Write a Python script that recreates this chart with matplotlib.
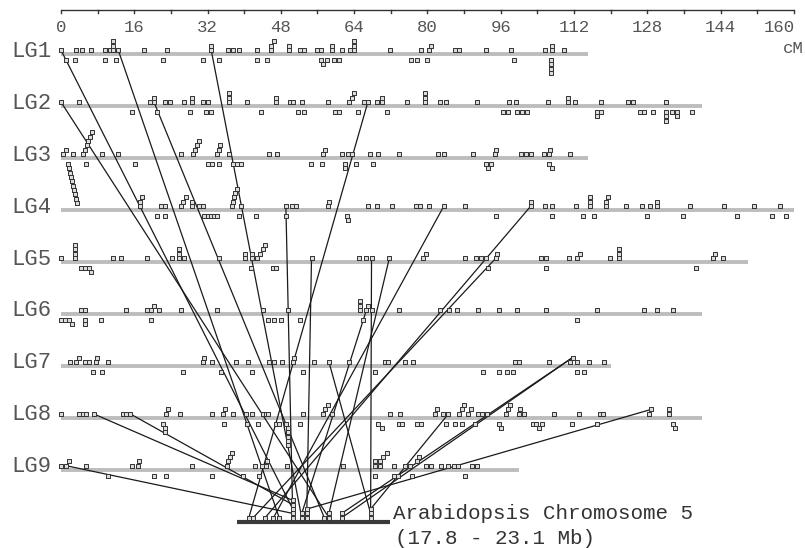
import numpy as np
import matplotlib.pyplot as plt

# linkage groups: names and lengths (cM)
lg_names = ['LG1', 'LG2', 'LG3', 'LG4', 'LG5', 'LG6', 'LG7', 'LG8', 'LG9']
lg_len = [115, 140, 115, 160, 150, 140, 120, 140, 100]

# marker positions (cM) per stack level: +1,+2.. above the bar, -1,-2.. below
lg1 = {1: [0, 3.3, 4.5, 6.5, 9.7, 10.6, 11.4, 12.5, 18.2, 23.1, 32.8, 36.4, 37.6, 38.8, 42.8, 45.9, 49.7,
           52.2, 53.1, 55.8, 56.7, 59.1, 61.4, 63.2, 64.0, 71.8, 78.5, 80.4, 86.0, 86.8, 92.8, 98.2,
           105.7, 107.3, 109.9],
       2: [11.4, 32.8, 45.9, 49.7, 59.1, 64.0, 80.7, 107.3],
       3: [11.4, 46.5, 64.0],
       -1: [1.2, 3.1, 9.5, 11.9, 22.3, 31.0, 34.4, 42.9, 44.9, 56.8, 58.0, 59.5, 60.7, 76.4, 77.7, 80.0,
            99.0, 106.9],
       -2: [57.2, 106.9], -3: [106.9], -4: [106.9]}
lg2 = {1: [0, 3.9, 19.5, 20.3, 22.6, 23.8, 26.8, 28.5, 31.0, 32.0, 36.7, 40.6, 46.9, 49.9, 50.7, 52.6,
           58.2, 62.9, 66.2, 67.0, 69.1, 70.0, 75.6, 79.5, 82.8, 84.1, 90.9, 97.9, 99.3, 106.3, 110.8,
           112.2, 117.9, 123.7, 124.8, 132.0],
       2: [20.3, 28.5, 36.7, 46.9, 63.5, 70.0, 79.5, 110.8],
       3: [36.7, 64.0, 79.5],
       -1: [15.4, 20.9, 28.2, 31.7, 32.8, 43.7, 51.7, 53.1, 59.8, 60.8, 64.9, 71.1, 96.4, 97.6, 99.6,
            100.6, 101.7, 117.0, 117.9, 126.4, 127.4, 129.3, 132.0, 133.5, 134.6, 137.7],
       -2: [117.0, 132.0, 134.6], -3: [132.0]}
lg3 = {1: [0.5, 2.7, 4.7, 9.0, 12.5, 26.2, 28.9, 34.0, 36.6, 45.5, 47.1, 57.3, 61.3, 62.7, 63.6, 67.5,
           69.3, 73.8, 82.4, 83.6, 90.0, 94.7, 100.4, 101.5, 102.6, 105.5, 106.5, 111.1],
       2: [1.0, 5.2, 29.3, 34.4, 57.6, 95.0, 106.7],
       3: [5.6, 29.7, 34.8], 4: [6.0, 30.2], 5: [6.4], 6: [6.8],
       -1: [1.6, 5.5, 16.2, 32.2, 32.9, 34.4, 37.6, 38.4, 39.2, 54.5, 56.9, 61.9, 64.4, 68.2, 92.7, 93.8,
            106.5],
       -2: [1.8, 61.9, 93.3, 107.1],
       -3: [2.0], -4: [2.2], -5: [2.4], -6: [2.6], -7: [2.8], -8: [3.0], -9: [3.2], -10: [3.4]}
lg4 = {1: [17.2, 21.8, 22.7, 26.1, 28.5, 30.2, 31.1, 37.4, 39.2, 49.1, 50.4, 51.3, 58.2, 67.1, 69.1,
           72.2, 77.5, 78.4, 80.4, 83.6, 88.2, 102.6, 105.6, 107.3, 112.4, 115.4, 119.1, 123.3, 126.8,
           128.6, 130.2, 137.3, 144.8, 151.3, 157.0],
       2: [17.2, 26.7, 28.7, 37.6, 58.6, 102.6, 115.4, 119.1, 130.2],
       3: [17.6, 27.2, 37.8, 115.4, 119.4], 4: [38.1], 5: [38.4],
       -1: [20.9, 22.7, 31.2, 32.0, 32.7, 33.4, 34.1, 38.9, 42.5, 49.1, 62.4, 94.9, 107.3, 114.0, 116.4,
            127.9, 135.9, 147.5, 155.2, 158.2],
       -2: [62.7]}
lg5 = {1: [0, 3.1, 11.3, 13.0, 18.7, 24.3, 25.8, 26.9, 34.4, 40.2, 41.6, 42.7, 54.7, 65.1, 66.7, 67.8,
           71.7, 79.0, 88.2, 90.6, 91.7, 92.8, 95.0, 104.7, 105.8, 110.9, 112.6, 119.8, 121.9, 142.3,
           144.5],
       2: [3.1, 25.8, 40.2, 41.6, 43.4, 79.7, 95.3, 113.3, 121.9, 142.8],
       3: [3.1, 25.8, 44.0, 121.9], 4: [3.1, 44.5],
       -1: [4.3, 5.2, 6.2, 41.4, 46.2, 46.9, 93.3, 105.8, 138.6],
       -2: [6.6]}
lg6 = {1: [4.4, 5.2, 14.2, 18.7, 19.6, 21.3, 26.1, 34.0, 44.2, 49.6, 65.3, 66.7, 67.8, 73.7, 82.8, 84.8,
           86.5, 91.1, 95.6, 99.6, 105.8, 117.0, 127.3, 130.1, 133.7],
       2: [20.2, 65.3, 67.0], 3: [65.3],
       -1: [0, 0.9, 1.7, 5.2, 8.7, 19.6, 45.3, 46.4, 48.0, 52.2, 66.0, 112.7],
       -2: [2.5, 5.2]}
lg7 = {1: [2.0, 3.3, 5.2, 6.2, 7.6, 10.2, 30.9, 33.0, 38.2, 40.9, 45.5, 46.4, 48.2, 50.6, 55.3, 58.5,
           62.9, 70.7, 71.5, 75.1, 76.9, 99.1, 100.1, 106.6, 111.1, 112.7, 115.3, 118.5],
       2: [3.9, 7.8, 31.3, 50.9, 111.7],
       -1: [6.9, 8.9, 26.6, 34.9, 41.8, 52.9, 68.6, 92.1, 95.7, 97.3, 98.6, 112.7, 114.1]}
lg8 = {1: [0, 4.0, 4.7, 5.5, 7.1, 13.6, 14.3, 15.1, 22.9, 26.0, 33.0, 35.3, 37.6, 40.3, 41.8, 44.0,
           44.7, 45.3, 52.8, 57.3, 59.2, 71.8, 74.0, 81.7, 83.5, 84.6, 87.0, 88.9, 91.0, 91.9, 93.0,
           97.1, 99.9, 101.1, 107.7, 113.2, 117.7, 118.4, 128.4, 132.8],
       2: [23.4, 35.9, 57.6, 82.0, 87.5, 89.5, 97.7, 100.2, 128.8, 132.8],
       3: [58.2, 87.9, 98.0],
       -1: [22.3, 35.6, 40.7, 43.1, 46.9, 47.7, 49.1, 52.2, 69.3, 73.7, 74.4, 77.7, 78.7, 84.1, 86.0,
            87.5, 90.4, 95.7, 103.1, 103.8, 105.1, 111.5, 117.0, 133.7],
       -2: [22.7, 49.6, 70.0, 96.1, 104.4, 134.1],
       -3: [22.7, 49.6], -4: [49.6], -5: [49.6], -6: [49.6]}
lg9 = {1: [0, 1.2, 5.5, 15.4, 16.9, 28.7, 36.2, 42.4, 43.8, 44.7, 49.4, 61.6, 68.6, 69.7, 72.6, 75.1,
           76.2, 79.8, 80.7, 82.9, 84.6, 85.7, 86.7, 89.7, 90.8],
       2: [1.8, 17.1, 36.5, 44.9, 68.6, 69.7, 77.7],
       3: [36.9, 70.4, 78.2], 4: [37.4, 71.1],
       -1: [10.3, 20.2, 22.9, 33.0, 39.8, 43.3, 68.6, 72.7, 73.6, 76.6, 88.2]}
lg_markers = [lg1, lg2, lg3, lg4, lg5, lg6, lg7, lg8, lg9]

# Arabidopsis chromosome 5 segment (Mb) and its markers
chrom_range = [17.8, 23.1]
chrom_mb = [18.22, 18.37, 18.78, 19.07, 19.27, 19.74, 19.74, 19.74, 19.74, 19.74, 20.05, 20.05,
            20.22, 20.22, 20.22, 20.83, 20.99, 20.99, 21.43, 21.43, 22.43, 22.43, 22.43]
chrom_lv = [1, 1, 1, 1, 1, 1, 2, 3, 4, 5, 1, 2, 1, 2, 3, 1, 1, 2, 1, 2, 1, 2, 3]

# syntenic links: linkage group marker -> chromosome marker
link_lg = [1, 2, 1, 2, 1, 2, 4, 4, 4, 5, 5, 5, 5, 6, 7, 7, 7, 8, 8, 8, 8, 9]
link_cm = [0.0, 0.0, 12.5, 20.3, 32.8, 67.0, 49.1, 83.6, 102.6, 54.7, 67.8, 71.7, 95.0, 67.0, 58.5,
           111.7, 111.7, 7.1, 15.1, 84.6, 128.8, 1.2]
link_lv = [1, 1, 1, 1, 1, 1, 1, 1, 1, 1, 1, 1, 1, 2, 1, 2, 2, 1, 1, 1, 2, 1]
link_mb = [19.74, 20.99, 19.27, 20.83, 20.05, 18.22, 19.74, 19.07, 18.78, 20.22, 22.43, 20.99, 18.37,
           20.05, 22.43, 21.43, 21.43, 19.74, 19.74, 22.43, 20.22, 19.74]
link_clv = [3, 1, 1, 1, 1, 1, 1, 1, 1, 1, 1, 2, 1, 2, 2, 1, 2, 5, 4, 3, 3, 2]

ruler_ticks = np.arange(0, 161, 8)
ruler_labels = np.arange(0, 161, 16)

# layout: x in cM, y in rows (one row per linkage group)
ROW_PX = 51.96
chrom_row = 9.0
chrom_x = [38.36, 71.83]   # cM-axis span where the chromosome bar is drawn


def mark_y(row, lv):
    if lv > 0:
        return row - (4.2 + (lv - 1) * 4.33) / ROW_PX
    return row + (5.8 + (-lv - 1) * 4.33) / ROW_PX


def mb_x(mb):
    return np.interp(mb, chrom_range, chrom_x)


mono = ['Liberation Mono', 'DejaVu Sans Mono']
box = [(-1, -0.75), (1, -0.75), (1, 0.75), (-1, 0.75), (-1, -0.75)]
mstyle = dict(marker=box, markersize=3.4, mfc='#dcdcdc', mec='#333333', mew=0.7, ls='none', zorder=4)

fig = plt.figure(figsize=(8.05, 5.48), dpi=100)
ax = fig.add_axes([0, 0, 1, 1])
ax.set_xlim(-61 / 4.58, (805 - 61) / 4.58)
ax.set_ylim((548 - 54.3) / ROW_PX, -54.3 / ROW_PX)
ax.axis('off')

# ruler
ry = -0.853
ax.plot([0, 160], [ry, ry], color='#333333', lw=1.0, solid_capstyle='butt')
for t in ruler_ticks:
    ax.plot([t, t], [ry, ry + 3.5 / ROW_PX], color='#333333', lw=1.0)
for t in ruler_labels:
    # last label sits flush with the end tick so it stays inside the figure
    ha = 'right' if t == ruler_labels[-1] else 'center'
    ax.text(t + (0.3 if ha == 'right' else 0), -0.51, str(t), ha=ha, va='center', fontsize=12.5,
            family=mono, color='#555555')
ax.text(162.2, -0.12, 'cM', ha='right', va='center', fontsize=12.5, family=mono, color='#555555')

# linkage groups
for i, (name, length, marks) in enumerate(zip(lg_names, lg_len, lg_markers)):
    ax.plot([0, length], [i, i], color='#bdbdbd', lw=2.8, solid_capstyle='butt', zorder=1)
    ax.text(-2.0, i - 0.06, name, ha='right', va='center', fontsize=16, family=mono, color='#555555')
    for lv, pos in marks.items():
        ax.plot(pos, [mark_y(i, lv)] * len(pos), **mstyle)

# chromosome bar and markers
ax.plot(chrom_x, [chrom_row, chrom_row], color='#3a3a3a', lw=3.0, solid_capstyle='butt', zorder=1)
ax.plot(mb_x(chrom_mb), [mark_y(chrom_row, lv) for lv in chrom_lv], **mstyle)

# links
for g, c, lv, mb, clv in zip(link_lg, link_cm, link_lv, link_mb, link_clv):
    ax.plot([c, mb_x(mb)], [mark_y(g - 1, lv), mark_y(chrom_row, clv)], color='#1a1a1a', lw=0.9, zorder=3)

ax.text(72.5, 8.83, 'Arabidopsis Chromosome 5', ha='left', va='center', fontsize=15, family=mono,
        color='#333333')
ax.text(72.9, 9.31, '(17.8 - 23.1 Mb)', ha='left', va='center', fontsize=15, family=mono, color='#333333')

plt.savefig('out.png', dpi=100)
